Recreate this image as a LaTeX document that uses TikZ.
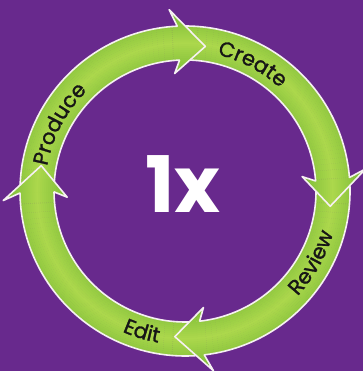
\documentclass[tikz,border=0pt]{standalone}
\usepackage{fontspec}
\usetikzlibrary{calc,decorations.text}
\newfontfamily\lblfont{Poppins}[FakeBold=1.3]
\newfontfamily\numfont{Poppins}
\definecolor{bgpurple}{RGB}{104,41,141}
\definecolor{ringlight}{RGB}{172,216,76}
\definecolor{ringdark}{RGB}{106,178,48}
\definecolor{rimwhite}{RGB}{246,240,242}
\definecolor{lbltxt}{RGB}{22,22,22}
\newcommand{\lbl}{\lblfont\fontsize{21}{21}\selectfont\color{lbltxt}}
% concentric rings, light in the middle of the band
\newcommand{\shaderings}{%
  \foreach \rr in {108,110,...,190}{
    \pgfmathsetmacro\mixpct{max(0,100-abs(\rr-148)*2.4)}
    \draw[ringlight!\mixpct!ringdark, line width=2.4pt] (0,0) circle (\rr);
  }}

\begin{document}
\begin{tikzpicture}[x=1pt,y=1pt,
    rim/.style={draw=rimwhite, line width=1.6pt, line join=round, line cap=round},
    ringtxt/.style={decorate, decoration={text along path, text align=center, text={#1}}}]
    \useasboundingbox (0,0) rectangle (363,371);
    \fill[bgpurple] (0,0) rectangle (363,371);
    \coordinate (O) at (185,180);

    \begin{scope}[shift={(O)}]
    % Bands
    \foreach \baseang/\tailang in {7/91,-81/3,-177/-85,-265/-181}{
        \begin{scope}
            \clip (\tailang:165) arc[start angle=\tailang, end angle=\baseang-4, radius=165]
                -- (\baseang-4:131) arc[start angle=\baseang-4, end angle=\tailang, radius=131] -- cycle;
            \shaderings
        \end{scope}
        \draw[rim] (\tailang:165) arc[start angle=\tailang, end angle=\baseang-2.3, radius=165];
        \draw[rim] (\tailang:131) arc[start angle=\tailang, end angle=\baseang-2.6, radius=131];
    }
    % Heads
    \foreach \baseang in {7,-81,-177,95}{
        \begin{scope}
            \clip (\baseang-2.3:165) -- (\baseang:182) -- (\baseang-13:146) -- (\baseang:118)
                -- (\baseang-2.6:131) -- cycle;
            \shaderings
        \end{scope}
        \draw[rim] (\baseang-2.3:165) -- (\baseang:182) -- (\baseang-13:146) -- (\baseang:118)
            -- (\baseang-2.6:131);
    }

    % Text along the ring
    \path[ringtxt={|\lbl|Create}] (90:140) arc[start angle=90, end angle=34, radius=140];
    \path[ringtxt={|\lbl|Produce}] (182:140) arc[start angle=182, end angle=122, radius=140];
    \path[ringtxt={|\lbl|Review}] (-58:154) arc[start angle=-58, end angle=-1, radius=154];
    \path[ringtxt={|\lbl|Edit}] (-132:154) arc[start angle=-132, end angle=-82, radius=154];

    % Text Node
    \node[text=white, inner sep=0pt, font=\numfont\bfseries\fontsize{78}{78}\selectfont] (mult) at (-2,7) {1x};
    \end{scope}
\end{tikzpicture}
\end{document}
